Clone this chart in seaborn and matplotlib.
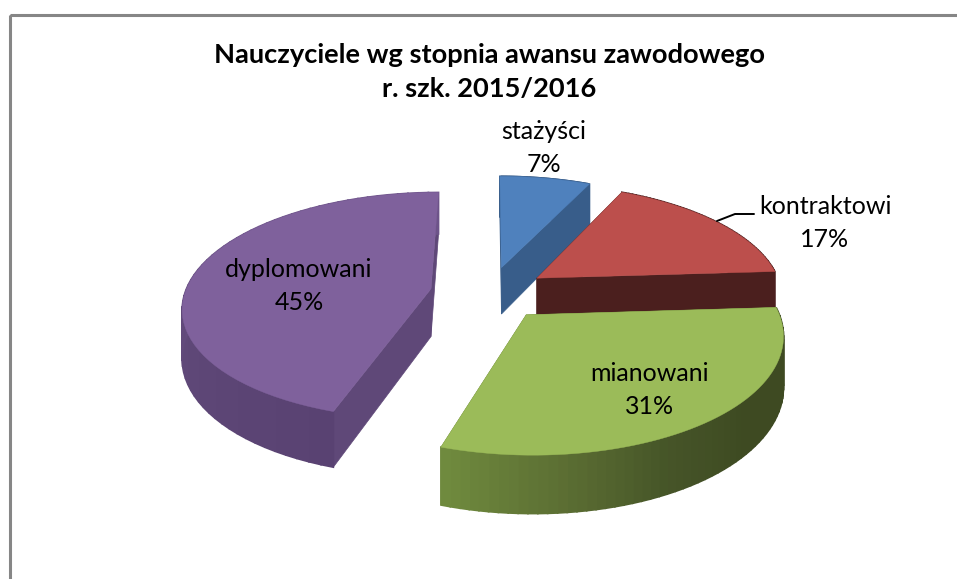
import numpy as np
import matplotlib
matplotlib.use("Agg")
import matplotlib.pyplot as plt
import seaborn as sns

# dane z wykresu
names = ["stażyści", "kontraktowi", "mianowani", "dyplomowani"]
shares = [7, 17, 31, 45]
title = "Nauczyciele wg stopnia awansu zawodowego\nr. szk. 2015/2016"

top_colors = ["#4f81bd", "#bc4f4c", "#9bbb59", "#7f619c"]
cut_colors = ["#385d8a", "#4b1f1e", "#6b8439", "#5f4878"]
wall_colors = [["#385d8a", "#385d8a"],
               ["#4b1f1e", "#4b1f1e"],
               ["#3e4a22", "#3e4a22", "#3e4a22", "#465528", "#5c6f33", "#6f8a3e"],
               ["#594272", "#5f4878", "#6a5086", "#6d5389"]]
label_x = [544, 825, 650, 299]
label_y = [148, 223, 390, 286]

sns.set_theme(style="white")
plt.rcParams["font.family"] = ["Lato", "DejaVu Sans"]

# rzut perspektywiczny plaskiego kola na piksele obrazka
cx, cy = 489, 293
rx, ry = 246, 112
persp = 0.15
depth = 48
explode = 0.24


def project(x, y, z=0.0):
    s = 1 / (1 + persp * y)
    return cx + rx * x * s, cy - ry * y * s + depth * z * s


def rim(theta, off, z=0.0):
    return project(off[0] + np.sin(theta), off[1] + np.cos(theta), z)


fig = plt.figure(figsize=(9.57, 5.79), dpi=100)
ax = fig.add_axes([0, 0, 1, 1])
ax.set_xlim(0, 957)
ax.set_ylim(579, 0)
ax.axis("off")

ax.add_patch(plt.Rectangle((9.5, 14.5), 1200, 800, fill=False, ec="#868686", lw=2.2))

edges = np.cumsum([0] + shares) / sum(shares) * 2 * np.pi
for i in range(len(shares)):
    t0, t1 = edges[i], edges[i + 1]
    mid = (t0 + t1) / 2
    off = (explode * np.sin(mid), explode * np.cos(mid))
    ts = np.linspace(t0, t1, 60)

    # sciany ciecia
    for t in [t0, t1]:
        ax0, ay0 = project(off[0], off[1])
        ax1, ay1 = project(off[0], off[1], 1)
        bx0, by0 = rim(t, off)
        bx1, by1 = rim(t, off, 1)
        ax.fill([ax0, bx0, bx1, ax1], [ay0, by0, by1, ay1],
                color=cut_colors[i], lw=0.5)

    # sciana boczna z gradientem
    grad = sns.blend_palette(wall_colors[i], len(ts) - 1)
    for k in range(len(ts) - 1):
        x0, y0 = rim(ts[k], off)
        x1, y1 = rim(ts[k + 1], off)
        x2, y2 = rim(ts[k + 1], off, 1)
        x3, y3 = rim(ts[k], off, 1)
        ax.fill([x0, x1, x2, x3], [y0, y1, y2, y3], color=grad[k], lw=1.2)

    # gorna powierzchnia
    px, py = rim(ts, off)
    ax0, ay0 = project(off[0], off[1])
    ax.fill(np.r_[ax0, px], np.r_[ay0, py], color=top_colors[i], lw=0.3)

ax.plot([717, 735, 754], [221, 214, 214], color="black", lw=1.4)

ax.text(489, 72, title, ha="center", va="center", fontsize=19.6,
        fontweight="bold", color="black", linespacing=1.5)
for i in range(len(names)):
    ax.text(label_x[i], label_y[i], f"{names[i]}\n{shares[i]}%", ha="center",
            va="center", fontsize=18, color="black", linespacing=1.5)

fig.savefig("out.png", dpi=100)
